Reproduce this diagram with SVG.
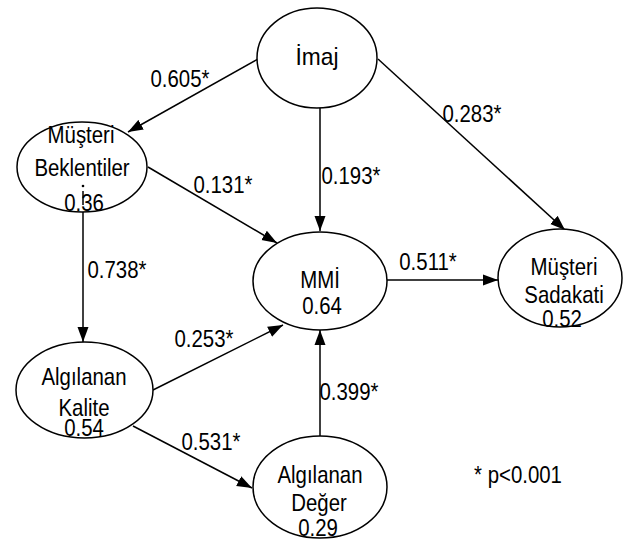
<svg xmlns="http://www.w3.org/2000/svg" width="634" height="541" viewBox="0 0 634 541">
<style>
.n{fill:#fff;stroke:#000;stroke-width:1.5}
.c{stroke:#000;stroke-width:1.5;fill:none;marker-end:url(#ah)}
text{font-family:"Liberation Sans",Arial,sans-serif;font-size:24px;fill:#000;text-anchor:middle}
</style>
<defs>
<marker id="ah" markerUnits="userSpaceOnUse" markerWidth="16" markerHeight="12" refX="15" refY="6" orient="auto">
<path d="M0,0.5 L15,6 L0,11.5 z" fill="#000"/>
</marker>
</defs>
<rect width="634" height="541" fill="#fff"/>
<g id="connectors">
<line class="c" x1="258" y1="59" x2="128" y2="132"/>
<line class="c" x1="148" y1="167" x2="277" y2="243"/>
<line class="c" x1="320" y1="108" x2="320" y2="231"/>
<line class="c" x1="378" y1="59" x2="565" y2="230"/>
<line class="c" x1="387" y1="280" x2="498" y2="280"/>
<line class="c" x1="83" y1="212" x2="83" y2="342"/>
<line class="c" x1="153" y1="390" x2="283" y2="325"/>
<line class="c" x1="133" y1="426" x2="252" y2="488"/>
<line class="c" x1="320" y1="437" x2="320" y2="330"/>
<text transform="translate(180,87) scale(0.85,1)">0.605*</text>
<text transform="translate(223,193) scale(0.85,1)">0.131*</text>
<text transform="translate(351,184) scale(0.85,1)">0.193*</text>
<text transform="translate(472,122) scale(0.85,1)">0.283*</text>
<text transform="translate(428,270) scale(0.85,1)">0.511*</text>
<text transform="translate(117,278) scale(0.85,1)">0.738*</text>
<text transform="translate(204,347) scale(0.85,1)">0.253*</text>
<text transform="translate(211,450) scale(0.85,1)">0.531*</text>
<text transform="translate(349,400) scale(0.85,1)">0.399*</text>
</g>
<g id="imaj">
<ellipse class="n" cx="317" cy="58" rx="60" ry="50"/>
<text transform="translate(317,65) scale(0.95,1)">İmaj</text>
</g>
<g id="musteri-beklentiler">
<ellipse class="n" cx="82" cy="167" rx="65" ry="45"/>
<text transform="translate(81,143) scale(0.85,1)">Müşteri</text>
<text transform="translate(82,176) scale(0.85,1)">Beklentiler</text>
<text transform="translate(84,211) scale(0.85,1)">0.36</text>
<line x1="83" y1="191" x2="83" y2="205" stroke="#000" stroke-width="1.5"/>
<circle cx="83" cy="186" r="1.3" fill="#000"/>
</g>
<g id="mmi">
<ellipse class="n" cx="320" cy="281" rx="67" ry="49"/>
<text transform="translate(320,288) scale(0.85,1)">MMİ</text>
<text transform="translate(322,314) scale(0.85,1)">0.64</text>
</g>
<g id="musteri-sadakati">
<ellipse class="n" cx="560" cy="278" rx="62" ry="49"/>
<text transform="translate(564,275) scale(0.85,1)">Müşteri</text>
<text transform="translate(564,303) scale(0.85,1)">Sadakati</text>
<text transform="translate(562,327) scale(0.85,1)">0.52</text>
</g>
<g id="algilanan-kalite">
<ellipse class="n" cx="84.5" cy="390" rx="68.5" ry="48"/>
<text transform="translate(84,385) scale(0.85,1)">Algılanan</text>
<text transform="translate(84,416) scale(0.85,1)">Kalite</text>
<text transform="translate(84,436) scale(0.85,1)">0.54</text>
</g>
<g id="algilanan-deger">
<ellipse class="n" cx="320" cy="487" rx="67" ry="51"/>
<text transform="translate(320,483) scale(0.85,1)">Algılanan</text>
<text transform="translate(319,511) scale(0.85,1)">Değer</text>
<text transform="translate(318,536) scale(0.85,1)">0.29</text>
</g>
<g id="note">
<text transform="translate(518,483) scale(0.85,1)">* p&lt;0.001</text>
</g>
</svg>
